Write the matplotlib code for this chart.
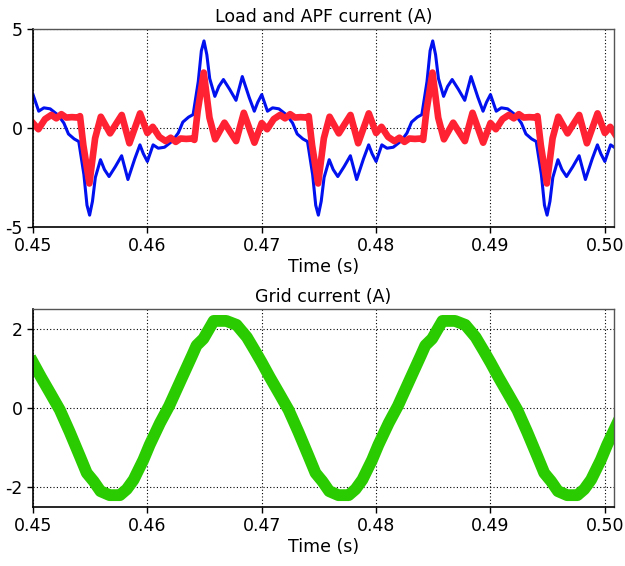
import matplotlib
matplotlib.use("Agg")
import matplotlib.pyplot as plt

plt.rcParams["font.family"] = "DejaVu Sans"
plt.rcParams["axes.unicode_minus"] = False

# load current (blue)
load_t = [
    0.4500, 0.4505, 0.45095, 0.4515, 0.4522, 0.4527, 0.4531, 0.4536, 0.4540, 0.45445, 0.45472, 0.45495,
    0.4552, 0.45545, 0.4559, 0.45625, 0.45665, 0.4572, 0.45775, 0.4583, 0.4589, 0.45935, 0.45965,
    0.4600, 0.4605, 0.46095, 0.4615, 0.4622, 0.4627, 0.4631, 0.4636, 0.4640, 0.46445, 0.46472, 0.46495,
    0.4652, 0.46545, 0.4659, 0.46625, 0.46665, 0.4672, 0.46775, 0.4683, 0.4689, 0.46935, 0.46965,
    0.4700, 0.4705, 0.47095, 0.4715, 0.4722, 0.4727, 0.4731, 0.4736, 0.4740, 0.47445, 0.47472, 0.47495,
    0.4752, 0.47545, 0.4759, 0.47625, 0.47665, 0.4772, 0.47775, 0.4783, 0.4789, 0.47935, 0.47965,
    0.4800, 0.4805, 0.48095, 0.4815, 0.4822, 0.4827, 0.4831, 0.4836, 0.4840, 0.48445, 0.48472, 0.48495,
    0.4852, 0.48545, 0.4859, 0.48625, 0.48665, 0.4872, 0.48775, 0.4883, 0.4889, 0.48935, 0.48965,
    0.4900, 0.4905, 0.49095, 0.4915, 0.4922, 0.4927, 0.4931, 0.4936, 0.4940, 0.49445, 0.49472, 0.49495,
    0.4952, 0.49545, 0.4959, 0.49625, 0.49665, 0.4972, 0.49775, 0.4983, 0.4989, 0.49935, 0.49965,
    0.5000, 0.5005, 0.50095, 0.5015,
]
load_i = [
    1.69, 0.85, 1.02, 0.97, 0.65, 0.25, -0.30, -0.55, -0.68, -2.35, -3.90, -4.40,
    -3.70, -2.50, -1.60, -2.10, -2.45, -1.95, -1.40, -2.60, -1.55, -0.85, -1.30,
    -1.69, -0.85, -1.02, -0.97, -0.65, -0.25, 0.30, 0.55, 0.68, 2.35, 3.90, 4.40,
    3.70, 2.50, 1.60, 2.10, 2.45, 1.95, 1.40, 2.60, 1.55, 0.85, 1.30,
    1.69, 0.85, 1.02, 0.97, 0.65, 0.25, -0.30, -0.55, -0.68, -2.35, -3.90, -4.40,
    -3.70, -2.50, -1.60, -2.10, -2.45, -1.95, -1.40, -2.60, -1.55, -0.85, -1.30,
    -1.69, -0.85, -1.02, -0.97, -0.65, -0.25, 0.30, 0.55, 0.68, 2.35, 3.90, 4.40,
    3.70, 2.50, 1.60, 2.10, 2.45, 1.95, 1.40, 2.60, 1.55, 0.85, 1.30,
    1.69, 0.85, 1.02, 0.97, 0.65, 0.25, -0.30, -0.55, -0.68, -2.35, -3.90, -4.40,
    -3.70, -2.50, -1.60, -2.10, -2.45, -1.95, -1.40, -2.60, -1.55, -0.85, -1.30,
    -1.69, -0.85, -1.02, -0.97,
]

# APF current (red)
apf_t = [
    0.4500, 0.45047, 0.45105, 0.4516, 0.45204, 0.45248, 0.4529, 0.4534, 0.4539, 0.45411,
    0.4544, 0.45493, 0.45543, 0.45593, 0.45674, 0.45725, 0.45776, 0.45843, 0.45936,
    0.4600, 0.46047, 0.46105, 0.4616, 0.46204, 0.46248, 0.4629, 0.4634, 0.4639, 0.46411,
    0.4644, 0.46493, 0.46543, 0.46593, 0.46674, 0.46725, 0.46776, 0.46843, 0.46936,
    0.4700, 0.47047, 0.47105, 0.4716, 0.47204, 0.47248, 0.4729, 0.4734, 0.4739, 0.47411,
    0.4744, 0.47493, 0.47543, 0.47593, 0.47674, 0.47725, 0.47776, 0.47843, 0.47936,
    0.4800, 0.48047, 0.48105, 0.4816, 0.48204, 0.48248, 0.4829, 0.4834, 0.4839, 0.48411,
    0.4844, 0.48493, 0.48543, 0.48593, 0.48674, 0.48725, 0.48776, 0.48843, 0.48936,
    0.4900, 0.49047, 0.49105, 0.4916, 0.49204, 0.49248, 0.4929, 0.4934, 0.4939, 0.49411,
    0.4944, 0.49493, 0.49543, 0.49593, 0.49674, 0.49725, 0.49776, 0.49843, 0.49936,
    0.5000, 0.50047, 0.50105,
]
apf_i = [
    0.25, -0.06, 0.45, 0.66, 0.49, 0.70, 0.53, 0.55, 0.53, 0.60,
    -0.86, -2.80, -0.52, 0.57, -0.27, 0.20, 0.66, -0.77, 0.74,
    -0.25, 0.06, -0.45, -0.66, -0.49, -0.70, -0.53, -0.55, -0.53, -0.60,
    0.86, 2.80, 0.52, -0.57, 0.27, -0.20, -0.66, 0.77, -0.74,
    0.25, -0.06, 0.45, 0.66, 0.49, 0.70, 0.53, 0.55, 0.53, 0.60,
    -0.86, -2.80, -0.52, 0.57, -0.27, 0.20, 0.66, -0.77, 0.74,
    -0.25, 0.06, -0.45, -0.66, -0.49, -0.70, -0.53, -0.55, -0.53, -0.60,
    0.86, 2.80, 0.52, -0.57, 0.27, -0.20, -0.66, 0.77, -0.74,
    0.25, -0.06, 0.45, 0.66, 0.49, 0.70, 0.53, 0.55, 0.53, 0.60,
    -0.86, -2.80, -0.52, 0.57, -0.27, 0.20, 0.66, -0.77, 0.74,
    -0.25, 0.06, -0.45,
]

# grid current (green)
grid_t = [
    0.4500, 0.4507, 0.4515, 0.45235, 0.4532, 0.4541, 0.4547, 0.4553, 0.4559, 0.4567, 0.4576, 0.4582, 0.4588,
    0.45965, 0.4602, 0.4611, 0.4619, 0.4630, 0.4639, 0.4643, 0.4649, 0.4658, 0.4669, 0.4678, 0.4687, 0.4694,
    0.4700, 0.4707, 0.4715, 0.47235, 0.4732, 0.4741, 0.4747, 0.4753, 0.4759, 0.4767, 0.4776, 0.4782, 0.4788,
    0.47965, 0.4802, 0.4811, 0.4819, 0.4830, 0.4839, 0.4843, 0.4849, 0.4858, 0.4869, 0.4878, 0.4887, 0.4894,
    0.4900, 0.4907, 0.4915, 0.49235, 0.4932, 0.4941, 0.4947, 0.4953, 0.4959, 0.4967, 0.4976, 0.4982, 0.4988,
    0.49965, 0.5002, 0.5011,
]
grid_i = [
    1.15, 0.78, 0.38, -0.05, -0.60, -1.22, -1.64, -1.85, -2.10, -2.20, -2.20, -2.05, -1.81,
    -1.31, -0.93, -0.38, 0.05, 0.75, 1.32, 1.58, 1.75, 2.20, 2.20, 2.10, 1.79, 1.45,
    1.15, 0.78, 0.38, -0.05, -0.60, -1.22, -1.64, -1.85, -2.10, -2.20, -2.20, -2.05, -1.81,
    -1.31, -0.93, -0.38, 0.05, 0.75, 1.32, 1.58, 1.75, 2.20, 2.20, 2.10, 1.79, 1.45,
    1.15, 0.78, 0.38, -0.05, -0.60, -1.22, -1.64, -1.85, -2.10, -2.20, -2.20, -2.05, -1.81,
    -1.31, -0.93, -0.38,
]

time_ticks = [0.45, 0.46, 0.47, 0.48, 0.49, 0.50]
time_labels = ["0.45", "0.46", "0.47", "0.48", "0.49", "0.50"]
top_yticks = [-5, 0, 5]
bottom_yticks = [-2, 0, 2]


def style_axes(ax, title, yticks, ylim):
    ax.set_xlim(0.45, 0.5008)
    ax.set_ylim(*ylim)
    ax.set_xticks(time_ticks)
    ax.set_xticklabels(time_labels)
    ax.set_yticks(yticks)
    ax.set_yticklabels([str(v) for v in yticks])
    ax.grid(True, color="black", linestyle=(0, (1, 2)), linewidth=0.8)
    ax.set_axisbelow(True)
    ax.tick_params(labelsize=12.5, length=4.5, width=1, pad=3, direction="out")
    for side in ("left", "bottom"):
        ax.spines[side].set_color("black")
        ax.spines[side].set_linewidth(1.2)
    for side in ("top", "right"):
        ax.spines[side].set_color("#555555")
        ax.spines[side].set_linewidth(1.0)
    ax.set_title(title, fontsize=12.5, pad=5)
    ax.set_xlabel("Time (s)", fontsize=12.5, labelpad=2)


fig = plt.figure(figsize=(6.25, 5.66), dpi=100)
ax1 = fig.add_axes([0.0528, 0.5989, 0.9296, 0.3498])
ax2 = fig.add_axes([0.0528, 0.1042, 0.9296, 0.3498])

ax1.plot(load_t, load_i, color="#0010EE", linewidth=2.2, solid_joinstyle="round")
ax1.plot(apf_t, apf_i, color="#FF2233", linewidth=4.8, solid_joinstyle="round")
style_axes(ax1, "Load and APF current (A)", top_yticks, (-5, 5))

ax2.plot(grid_t, grid_i, color="#2ACB00", linewidth=8.5, solid_joinstyle="round")
style_axes(ax2, "Grid current (A)", bottom_yticks, (-2.5, 2.5))

fig.savefig("out.png", dpi=100)
